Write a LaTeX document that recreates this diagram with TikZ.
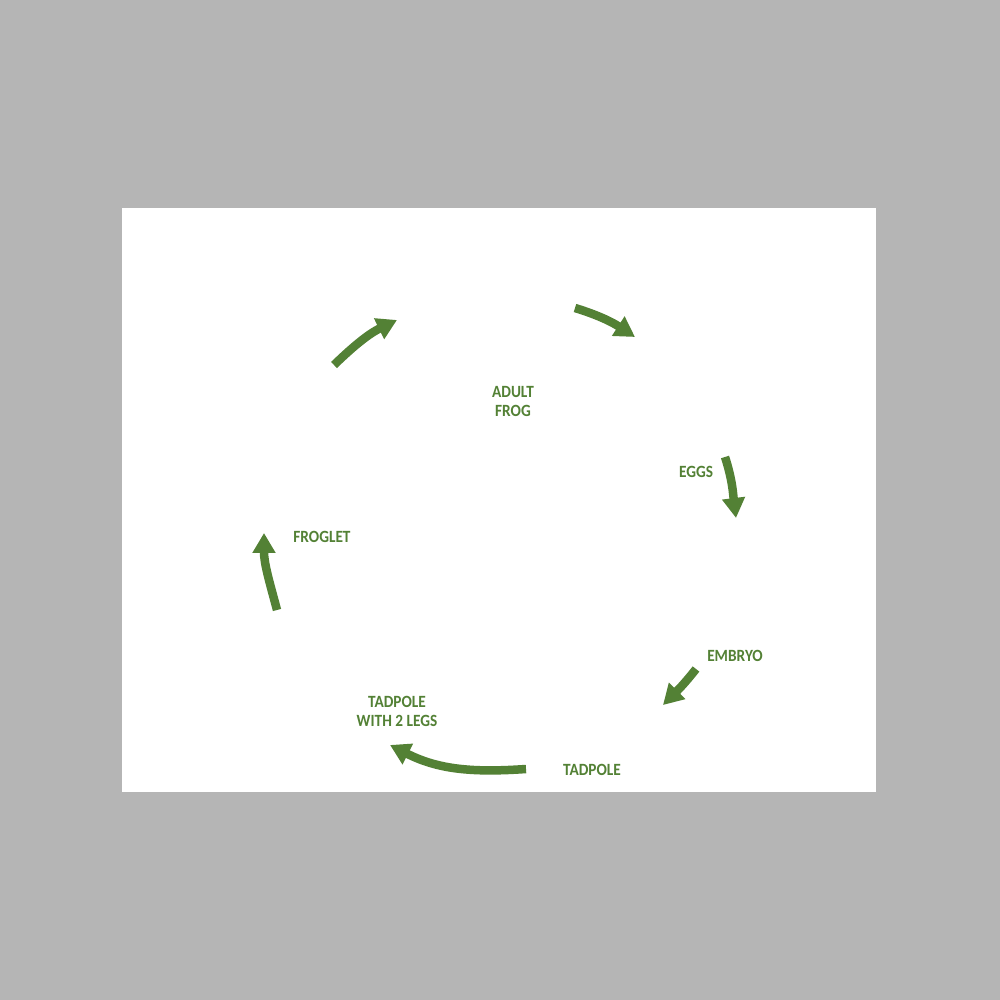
\documentclass[tikz,border=0pt]{standalone}
\usepackage{fontspec}
\setmainfont{Carlito}
\usetikzlibrary{arrows.meta}
\definecolor{frog}{HTML}{538135}
\definecolor{bg}{HTML}{B5B5B5}
\begin{document}
\begin{tikzpicture}[x=1pt,y=1pt,
  lbl/.style={text=frog,font=\fontsize{15.3}{17}\selectfont\bfseries,align=center,inner sep=0pt,yscale=1.12,transform shape},
  cyc/.style={draw=frog,line width=8.5pt,-{Triangle[width=22pt,length=20pt]}}]
\useasboundingbox (0,0) rectangle (1000,1000);
\fill[bg] (0,0) rectangle (1000,1000);
\fill[white] (122,208) rectangle (876,792);
% labels
\node[lbl] (adult) at (513,598.5) {ADULT\\FROG};
\node[lbl] (eggs) at (696,528) {EGGS};
\node[lbl] (embryo) at (735,344) {EMBRYO};
\node[lbl] (tadpole) at (592,230) {TADPOLE};
\node[lbl] (tadlegs) at (397,288.5) {TADPOLE\\WITH 2 LEGS};
\node[lbl] (froglet) at (322,463) {FROGLET};
% arrow end points
\coordinate (a1s) at (334,635); \coordinate (a1e) at (397,680);
\coordinate (a2s) at (575,692); \coordinate (a2e) at (635,663);
\coordinate (a3s) at (725,543); \coordinate (a3e) at (736,482);
\coordinate (a4s) at (696,331); \coordinate (a4e) at (663,295);
\coordinate (a5s) at (526,231); \coordinate (a5e) at (390,255);
\coordinate (a6s) at (277,390); \coordinate (a6e) at (264,467);
\draw[cyc] (a1s) to[out=44,in=206] (a1e);
\draw[cyc] (a2s) to[out=-17,in=147] (a2e);
\draw[cyc] (a3s) to[out=-72,in=97] (a3e);
\draw[cyc] (a4s) to[out=-128,in=45] (a4e);
\draw[cyc] (a5s) to[out=-176,in=-27] (a5e);
\draw[cyc] (a6s) to[out=105,in=-90] (a6e);
\end{tikzpicture}
\end{document}
